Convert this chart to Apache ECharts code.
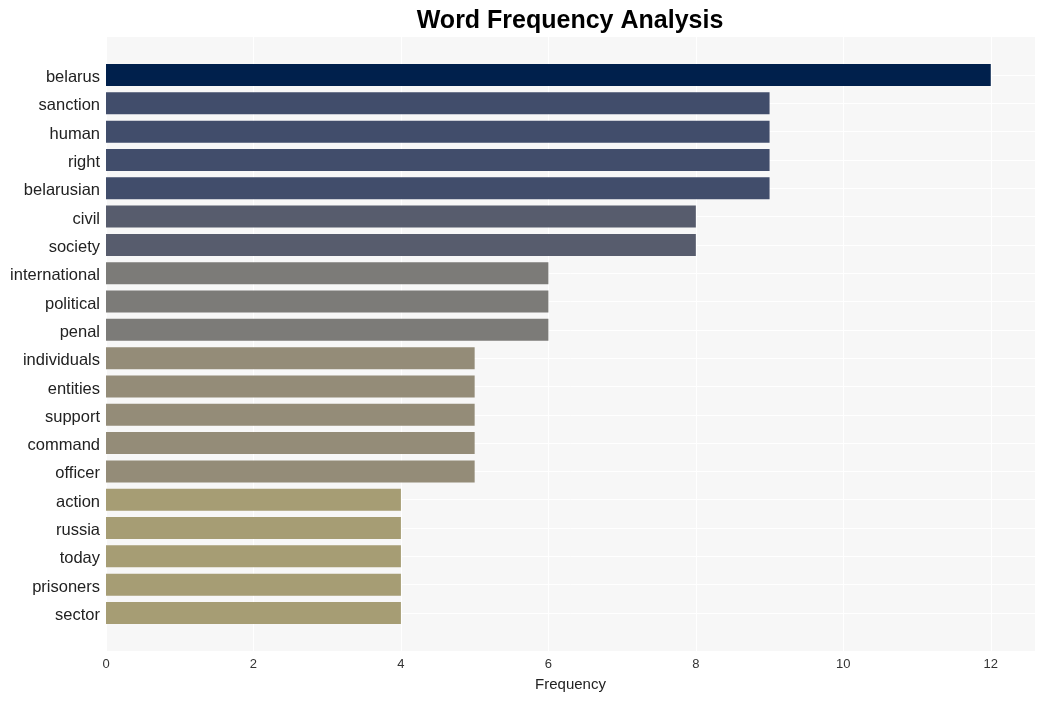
<!DOCTYPE html>
<html>
<head>
<meta charset="utf-8">
<script src="https://cdn.jsdelivr.net/npm/echarts@6/dist/echarts.min.js"></script>
<style>html,body{margin:0;padding:0;background:#fff;}#c{width:1045px;height:701px;}</style>
</head>
<body>
<div id="c"></div>
<script>
const words = ["belarus","sanction","human","right","belarusian","civil","society","international","political","penal","individuals","entities","support","command","officer","action","russia","today","prisoners","sector"];
const counts = [12,9,9,9,9,8,8,6,6,6,5,5,5,5,5,4,4,4,4,4];
const colorByCount = {12:"#00204c",9:"#414d6b",8:"#575c6d",6:"#7c7b78",5:"#948c78",4:"#a69d74"};
const xTicks = [0,2,4,6,8,10,12];

const font = "Liberation Sans, Arial, Helvetica, sans-serif";
const chart = echarts.init(document.getElementById('c'), null, {renderer:'canvas'});
chart.setOption({
  animation:false,
  title:{text:"Word Frequency Analysis",left:565,top:4,textAlign:'center',
    textStyle:{fontFamily:font,fontSize:25,fontWeight:'bold',color:'#000'}},
  grid:[
    {left:106,right:10,top:37,bottom:50,show:true,backgroundColor:'#f7f7f7',borderWidth:0},
    {left:106,right:10,top:75,bottom:88,show:false}
  ],
  xAxis:[
    {gridIndex:0,type:'value',min:0,max:12.6,interval:2,
      axisLine:{show:false},axisTick:{show:false},
      axisLabel:{fontFamily:font,fontSize:13,color:'#333',margin:7,
        formatter:v=>xTicks.indexOf(v)>=0?String(v):''},
      splitLine:{show:true,lineStyle:{color:'#ffffff',width:1}},
      name:'Frequency',nameLocation:'middle',nameGap:26,
      nameTextStyle:{fontFamily:font,fontSize:15,color:'#222'}},
    {gridIndex:1,type:'value',min:0,max:12.6,show:false,splitLine:{show:false}}
  ],
  yAxis:[
    {gridIndex:0,type:'value',min:0,max:1,show:false,splitLine:{show:false}},
    {gridIndex:1,type:'category',data:words,inverse:true,boundaryGap:false,
      axisLine:{show:false},axisTick:{show:false},
      axisLabel:{margin:6,formatter:v=>'{a|'+v+'}',
        rich:{a:{fontFamily:font,fontSize:16.5,color:'#222',padding:[5,0,0,0]}}},
      splitLine:{show:true,lineStyle:{color:'#ffffff',width:1}}}
  ],
  series:[{
    type:'bar',xAxisIndex:1,yAxisIndex:1,barWidth:22,
    data:counts.map(v=>({value:v,itemStyle:{color:colorByCount[v]}}))
  }]
});
</script>
</body>
</html>
